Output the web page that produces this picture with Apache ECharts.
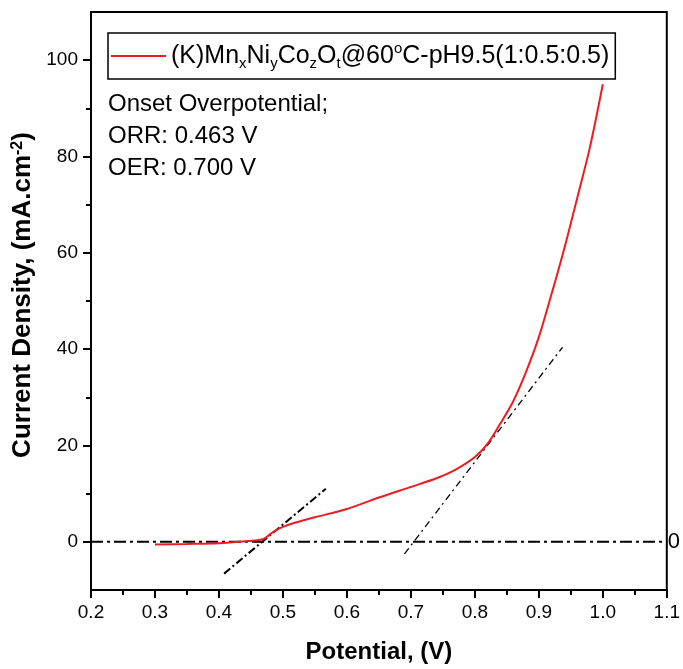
<!DOCTYPE html>
<html>
<head>
<meta charset="utf-8">
<script src="https://cdn.jsdelivr.net/npm/echarts@6/dist/echarts.min.js"></script>
<style>
  html, body { margin: 0; padding: 0; background: #fff; }
  #chart { width: 683px; height: 669px; }
</style>
</head>
<body>
<div id="chart"></div>
<script>
// Polarisation curve: potential (V) vs current density (mA.cm-2)
const potential = [0.30, 0.35, 0.40, 0.44, 0.46, 0.47, 0.48, 0.49, 0.50, 0.52, 0.55, 0.60, 0.65, 0.70, 0.74, 0.77, 0.80, 0.82, 0.84, 0.86, 0.88, 0.90, 0.92, 0.94, 0.96, 0.98, 1.00];
const currentDensity = [-0.55, -0.45, -0.3, 0.1, 0.35, 0.6, 1.6, 2.5, 3.1, 4.0, 5.1, 6.8, 9.2, 11.4, 13.2, 15.0, 17.6, 20.4, 24.6, 29.2, 35.3, 42.5, 51.5, 61.0, 71.4, 82.0, 95.0];

// Onset tangents and the zero-current baseline
const orrTangentX = [0.408, 0.567];
const orrTangentY = [-6.6, 11.0];
const oerTangentX = [0.690, 0.937];
const oerTangentY = [-2.5, 40.4];
const baselineX = [0.2, 1.1];
const baselineY = [0, 0];

// Axis ticks
const xMajorTicks = [0.2, 0.3, 0.4, 0.5, 0.6, 0.7, 0.8, 0.9, 1.0, 1.1];
const xMinorTicks = [0.25, 0.35, 0.45, 0.55, 0.65, 0.75, 0.85, 0.95, 1.05];
const yMajorTicks = [0, 20, 40, 60, 80, 100];
const yMinorTicks = [10, 30, 50, 70, 90];

const annotationLines = ['Onset Overpotential;', 'ORR: 0.463 V', 'OER: 0.700 V'];

const FONT = "'Liberation Sans', Arial, Helvetica, sans-serif";
const pair = (xs, ys) => xs.map((x, i) => [x, ys[i]]);

const chart = echarts.init(document.getElementById('chart'), null, { renderer: 'canvas' });

const tickLabel = { color: '#000', fontFamily: FONT, fontSize: 19 };
const tickLine = { color: '#000', width: 2 };

chart.setOption({
  animation: false,
  backgroundColor: '#fff',
  grid: {
    left: 91, right: 15, top: 12, bottom: 77,
    show: true, borderColor: '#000', borderWidth: 2, backgroundColor: 'transparent'
  },
  legend: {
    left: 108, top: 33,
    padding: [8, 6, 8, 3],
    borderColor: '#000', borderWidth: 1.5,
    icon: 'rect', itemWidth: 55, itemHeight: 2,
    data: ['main'],
    formatter: () => '{n|(K)Mn}{b|x}{n|Ni}{b|y}{n|Co}{b|z}{n|O}{b|t}{n|@60}{p|o}{n|C-pH9.5(1:0.5:0.5)}',
    textStyle: {
      color: '#000', fontFamily: FONT, fontSize: 25,
      rich: {
        n: { fontSize: 25, fontFamily: FONT, color: '#000', lineHeight: 30 },
        b: { fontSize: 15, fontFamily: FONT, color: '#000', lineHeight: 15, verticalAlign: 'bottom' },
        p: { fontSize: 15, fontFamily: FONT, color: '#000', lineHeight: 15, verticalAlign: 'top' }
      }
    }
  },
  graphic: [{
    type: 'text', left: 108, top: 88,
    style: {
      text: annotationLines.join('\n'),
      font: '24px ' + FONT, fill: '#000', lineHeight: 32
    }
  }],
  xAxis: [{
    type: 'value', min: 0.2, max: 1.1, position: 'bottom',
    name: 'Potential, (V)', nameLocation: 'middle', nameGap: 50,
    nameTextStyle: { color: '#000', fontFamily: FONT, fontSize: 24, fontWeight: 'bold' },
    axisLine: { show: true, onZero: false, lineStyle: tickLine },
    axisTick: { show: true, inside: false, length: 8, lineStyle: tickLine, customValues: xMajorTicks },
    axisLabel: { ...tickLabel, margin: 13, customValues: xMajorTicks, formatter: v => v.toFixed(1) },
    splitLine: { show: false }
  }, {
    type: 'value', min: 0.2, max: 1.1, position: 'bottom',
    axisLine: { show: false, onZero: false },
    axisTick: { show: true, inside: false, length: 5, lineStyle: tickLine, customValues: xMinorTicks },
    axisLabel: { show: false },
    splitLine: { show: false }
  }],
  yAxis: [{
    type: 'value', min: -10, max: 110, position: 'left',
    name: 'Current Density, (mA.cm{s|-2})', nameLocation: 'middle', nameGap: 53,
    nameTextStyle: {
      color: '#000', fontFamily: FONT, fontSize: 26, fontWeight: 'bold',
      padding: [0, 0, 0, 12],
      rich: {
        s: { fontSize: 16, fontFamily: FONT, fontWeight: 'bold', color: '#000', verticalAlign: 'top', lineHeight: 16 }
      }
    },
    axisLine: { show: true, onZero: false, lineStyle: tickLine },
    axisTick: { show: true, inside: false, length: 8, lineStyle: tickLine, customValues: yMajorTicks },
    axisLabel: { ...tickLabel, margin: 13, customValues: yMajorTicks },
    splitLine: { show: false }
  }, {
    type: 'value', min: -10, max: 110, position: 'left', offset: 0,
    axisLine: { show: false, onZero: false },
    axisTick: { show: true, inside: false, length: 5, lineStyle: tickLine, customValues: yMinorTicks },
    axisLabel: { show: false },
    splitLine: { show: false }
  }],
  series: [{
    name: 'baseline', type: 'line', symbol: 'none', silent: true,
    data: pair(baselineX, baselineY),
    lineStyle: { color: '#000', width: 2, type: [12, 4, 3, 4] },
    endLabel: { show: true, formatter: '0', color: '#000', fontFamily: FONT, fontSize: 22, distance: 1 }
  }, {
    name: 'orr', type: 'line', symbol: 'none', silent: true,
    data: pair(orrTangentX, orrTangentY),
    lineStyle: { color: '#000', width: 2, type: [8, 3, 2, 3] }
  }, {
    name: 'oer', type: 'line', symbol: 'none', silent: true,
    data: pair(oerTangentX, oerTangentY),
    lineStyle: { color: '#000', width: 1.3, type: [7, 4, 2, 4] }
  }, {
    name: 'main', type: 'line', symbol: 'none', smooth: 0.3,
    data: pair(potential, currentDensity),
    lineStyle: { color: '#ED1C24', width: 2 },
    itemStyle: { color: '#ED1C24' }
  }]
});
</script>
</body>
</html>
